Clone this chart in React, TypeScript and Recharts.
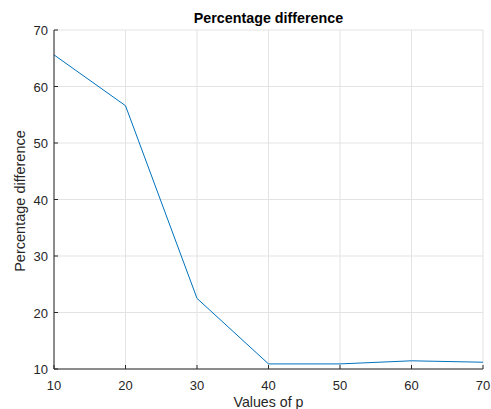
import React from "react";
import { LineChart, Line, XAxis, YAxis, CartesianGrid } from "recharts";

const pValues = [10, 20, 30, 40, 50, 60, 70];
const percentDiff = [65.6, 56.6, 22.5, 10.9, 10.9, 11.45, 11.2];
const xTicks = [10, 20, 30, 40, 50, 60, 70];
const yTicks = [10, 20, 30, 40, 50, 60, 70];

const data = pValues.map((p, i) => ({ p, v: percentDiff[i] }));

const FONT = "'Liberation Sans', Arial, Helvetica, sans-serif";
const AXIS = "#262626";
const TICK_MARGIN_X = 8;
const TICK_MARGIN_Y = 6;

const XTick = (props: any) => {
  const { x, y, payload } = props;
  const axisY = y - TICK_MARGIN_X;
  return (
    <g>
      <line x1={x} y1={axisY} x2={x} y2={axisY - 4} stroke={AXIS} strokeWidth={1} />
      <text x={x} y={y} dy={13} textAnchor="middle" fill={AXIS} fontSize={13} fontFamily={FONT}>
        {payload.value}
      </text>
    </g>
  );
};

const YTick = (props: any) => {
  const { x, y, payload } = props;
  const axisX = x + TICK_MARGIN_Y;
  return (
    <g>
      <line x1={axisX} y1={y} x2={axisX + 4} y2={y} stroke={AXIS} strokeWidth={1} />
      <text x={x} y={y} dy={5} textAnchor="end" fill={AXIS} fontSize={13} fontFamily={FONT}>
        {payload.value}
      </text>
    </g>
  );
};

export default function App() {
  return (
    <div style={{ position: "absolute", left: 0, top: 0, width: 491, height: 409, background: "#fff", overflow: "hidden" }}>
      <LineChart
        width={491}
        height={409}
        data={data}
        margin={{ top: 30, right: 8, left: 14, bottom: 10 }}
      >
        <CartesianGrid stroke="#e3e3e3" strokeWidth={1} horizontal vertical />
        <XAxis
          dataKey="p"
          type="number"
          domain={[10, 70]}
          ticks={xTicks}
          height={30}
          stroke={AXIS}
          tickLine={false}
          tickSize={0}
          tickMargin={TICK_MARGIN_X}
          tick={<XTick />}
          interval={0}
        />
        <YAxis
          type="number"
          domain={[10, 70]}
          ticks={yTicks}
          width={40}
          stroke={AXIS}
          tickLine={false}
          tickSize={0}
          tickMargin={TICK_MARGIN_Y}
          tick={<YTick />}
          interval={0}
        />
        <Line
          type="linear"
          dataKey="v"
          stroke="#0072BD"
          strokeWidth={1}
          dot={false}
          isAnimationActive={false}
        />
      </LineChart>
      <svg width={491} height={409} style={{ position: "absolute", left: 0, top: 0, pointerEvents: "none" }}>
        <text x={268.5} y={23} textAnchor="middle" fontSize={14.3} fontWeight="bold" fontFamily={FONT} fill="#000">
          Percentage difference
        </text>
        <text x={268.5} y={407} textAnchor="middle" fontSize={14.2} fontFamily={FONT} fill={AXIS}>
          Values of p
        </text>
        <text
          x={25}
          y={201}
          transform="rotate(-90 25 201)"
          textAnchor="middle"
          fontSize={14.5}
          fontFamily={FONT}
          fill={AXIS}
        >
          Percentage difference
        </text>
      </svg>
    </div>
  );
}
